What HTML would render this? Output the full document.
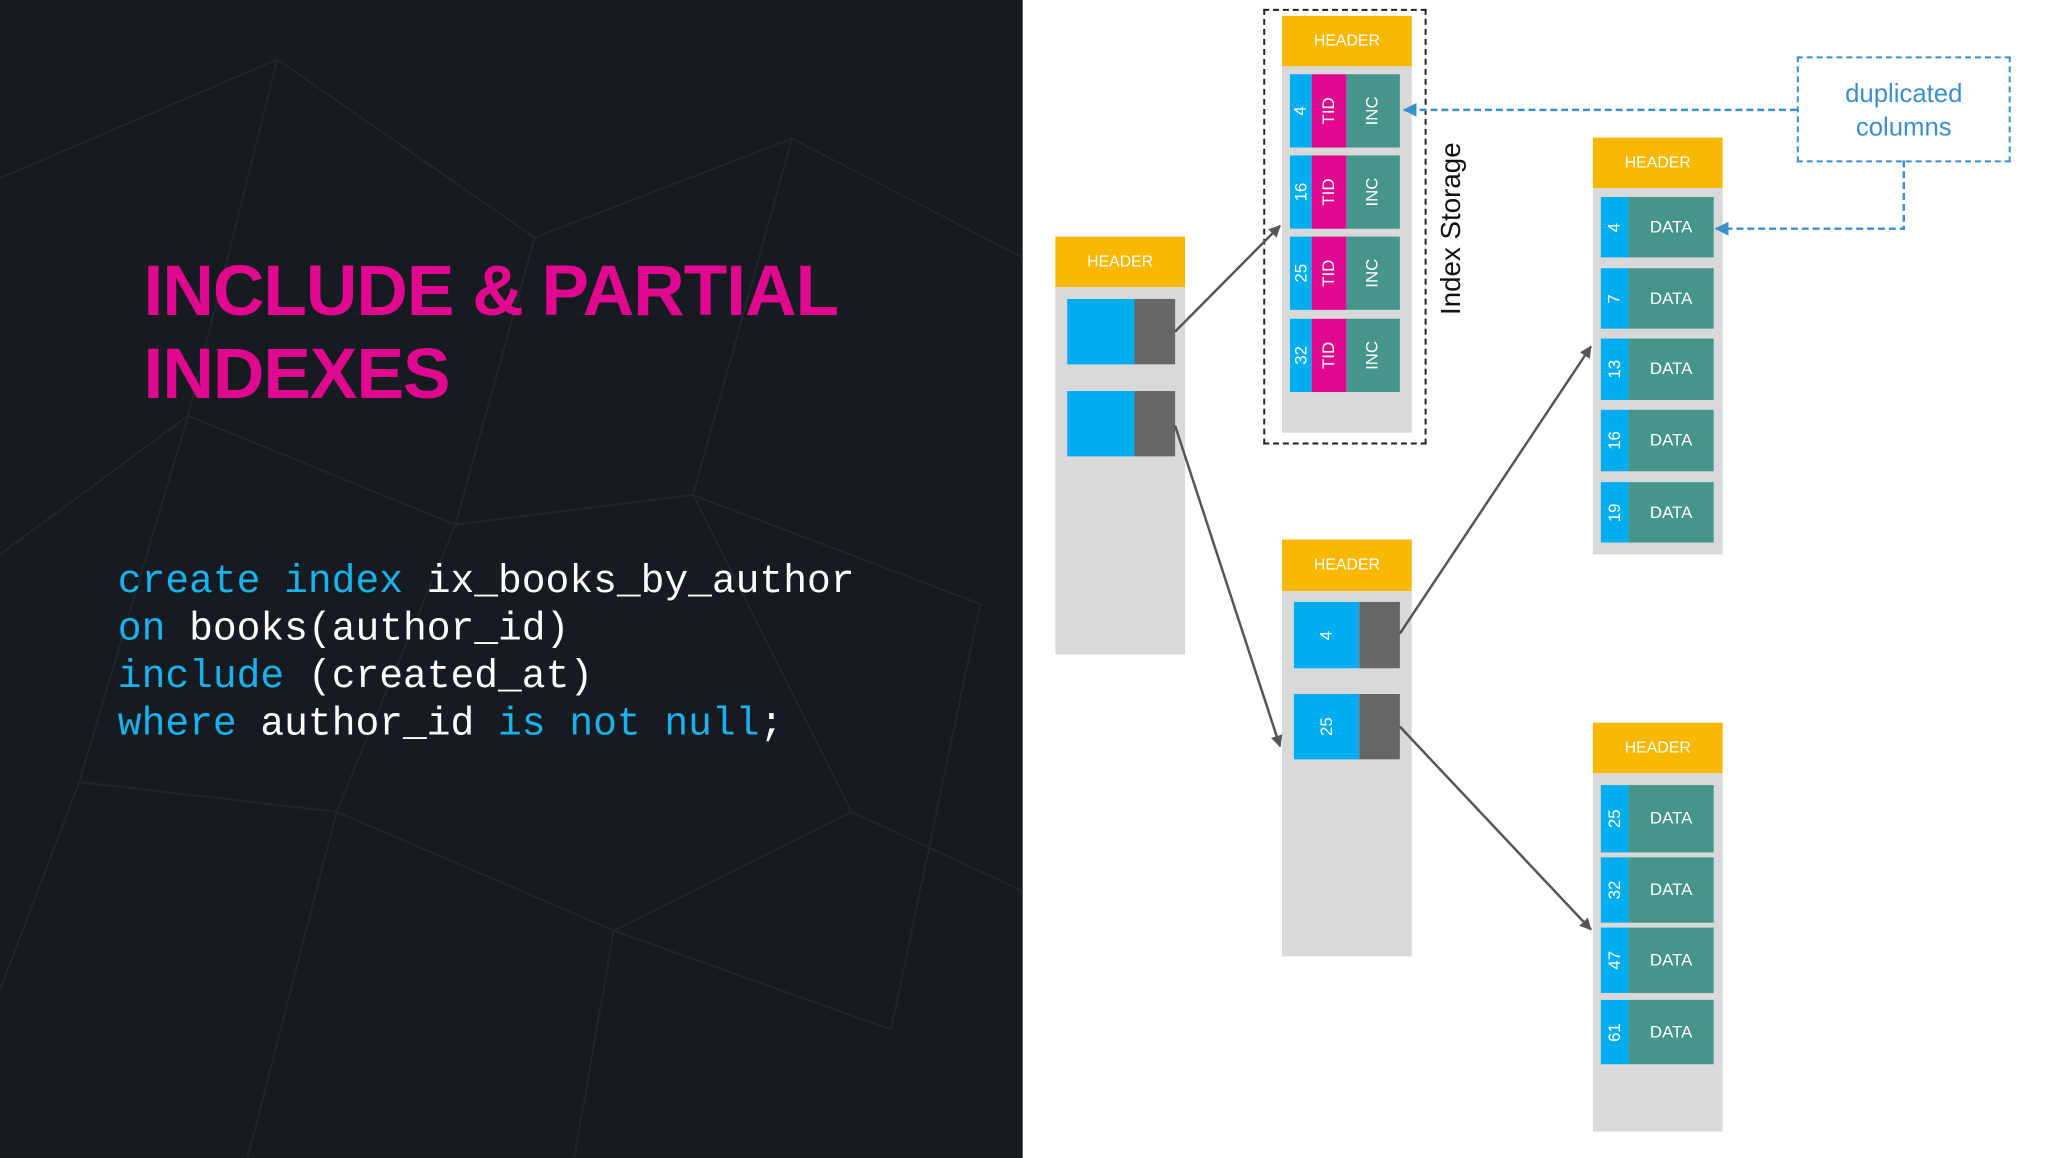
<!DOCTYPE html>
<html><head><meta charset="utf-8"><style>
body{margin:0;width:2048px;height:1152px;position:relative;overflow:hidden;background:#fff;font-family:"Liberation Sans",sans-serif}
#w{position:absolute;left:0;top:0;width:2070px;height:1170px;transform:scale(0.99);transform-origin:0 0}
.a{position:absolute}
.hdr{position:absolute;background:#f9b800;color:#fff;font-size:16px;display:flex;align-items:center;justify-content:center}
.body{position:absolute;background:#d9d9d9}
.r{position:absolute;display:flex;align-items:center;justify-content:center;color:#fff;font-size:17px}
.v span{transform:rotate(-90deg);white-space:nowrap}
.bl{background:#00adef}.pk{background:#e0088e}.tl{background:#45958a}.gy{background:#666}
.code{position:absolute;left:119px;font-family:"Liberation Mono",monospace;font-size:40px;color:#fff;white-space:pre}
.k{color:#1ab2ea}
</style></head><body><div id="w">
<div class="a" style="left:0;top:0;width:1033px;height:1170px;background:#161b22"></div>
<svg class="a" style="left:0;top:0" width="1033" height="1170">
<g stroke="#20262e" stroke-width="2" fill="none">
<path d="M0 180 L280 60 L540 240 L800 140 L1033 260"/>
<path d="M280 60 L190 420 L460 530 L700 500 L990 610"/>
<path d="M0 560 L190 420 L80 790 L340 820 L620 940 L900 1040"/>
<path d="M80 790 L0 1000 M340 820 L460 530 L540 240 M700 500 L800 140 M700 500 L860 820 L620 940 M860 820 L1033 900"/>
<path d="M620 940 L580 1170 M340 820 L250 1170 M900 1040 L990 610"/>
</g></svg>
<div class="a" style="left:145px;top:252px;font-size:72px;font-weight:bold;color:#e0088e;letter-spacing:-1px;line-height:84px">INCLUDE &amp; PARTIAL<br>INDEXES</div>
<div class="code" style="top:566px"><span class="k">create index</span> ix_books_by_author</div>
<div class="code" style="top:614px"><span class="k">on</span> books(author_id)</div>
<div class="code" style="top:662px"><span class="k">include</span> (created_at)</div>
<div class="code" style="top:710px"><span class="k">where</span> author_id <span class="k">is not null</span>;</div>

<div class="hdr" style="left:1066px;top:239px;width:131px;height:51px">HEADER</div>
<div class="body" style="left:1066px;top:290px;width:131px;height:371px"></div>
<div class="r bl" style="left:1078px;top:302px;width:68px;height:66px"></div><div class="r gy" style="left:1146px;top:302px;width:41px;height:66px"></div>
<div class="r bl" style="left:1078px;top:395px;width:68px;height:66px"></div><div class="r gy" style="left:1146px;top:395px;width:41px;height:66px"></div>

<div class="hdr" style="left:1295px;top:16px;width:131px;height:51px">HEADER</div>
<div class="body" style="left:1295px;top:67px;width:131px;height:370px"></div>
<div class="r bl v" style="left:1303px;top:75px;width:22px;height:74px"><span>4</span></div><div class="r pk v" style="left:1325px;top:75px;width:35px;height:74px"><span>TID</span></div><div class="r tl v" style="left:1360px;top:75px;width:54px;height:74px"><span>INC</span></div>
<div class="r bl v" style="left:1303px;top:157px;width:22px;height:74px"><span>16</span></div><div class="r pk v" style="left:1325px;top:157px;width:35px;height:74px"><span>TID</span></div><div class="r tl v" style="left:1360px;top:157px;width:54px;height:74px"><span>INC</span></div>
<div class="r bl v" style="left:1303px;top:239px;width:22px;height:74px"><span>25</span></div><div class="r pk v" style="left:1325px;top:239px;width:35px;height:74px"><span>TID</span></div><div class="r tl v" style="left:1360px;top:239px;width:54px;height:74px"><span>INC</span></div>
<div class="r bl v" style="left:1303px;top:322px;width:22px;height:74px"><span>32</span></div><div class="r pk v" style="left:1325px;top:322px;width:35px;height:74px"><span>TID</span></div><div class="r tl v" style="left:1360px;top:322px;width:54px;height:74px"><span>INC</span></div>
<div class="a" style="left:1276px;top:9px;width:161px;height:436px;border:2px dashed #222"></div>
<div class="a" style="left:1366px;top:216px;width:200px;height:30px;transform:rotate(-90deg);font-size:28px;color:#111;text-align:center;line-height:30px">Index Storage</div>

<div class="a" style="left:1815px;top:57px;width:212px;height:103px;border:2px dashed #3d8fcc;color:#3d8fcc;font-size:26px;text-align:center;display:flex;align-items:center;justify-content:center;line-height:34px">duplicated<br>columns</div>

<div class="hdr" style="left:1609px;top:139px;width:131px;height:51px">HEADER</div>
<div class="body" style="left:1609px;top:190px;width:131px;height:370px"></div>
<div class="r bl v" style="left:1617px;top:199px;width:28px;height:61px"><span>4</span></div><div class="r tl" style="left:1645px;top:199px;width:86px;height:61px">DATA</div>
<div class="r bl v" style="left:1617px;top:271px;width:28px;height:61px"><span>7</span></div><div class="r tl" style="left:1645px;top:271px;width:86px;height:61px">DATA</div>
<div class="r bl v" style="left:1617px;top:342px;width:28px;height:62px"><span>13</span></div><div class="r tl" style="left:1645px;top:342px;width:86px;height:62px">DATA</div>
<div class="r bl v" style="left:1617px;top:414px;width:28px;height:62px"><span>16</span></div><div class="r tl" style="left:1645px;top:414px;width:86px;height:62px">DATA</div>
<div class="r bl v" style="left:1617px;top:487px;width:28px;height:61px"><span>19</span></div><div class="r tl" style="left:1645px;top:487px;width:86px;height:61px">DATA</div>

<div class="hdr" style="left:1295px;top:545px;width:131px;height:52px">HEADER</div>
<div class="body" style="left:1295px;top:597px;width:131px;height:369px"></div>
<div class="r bl v" style="left:1307px;top:608px;width:66px;height:67px"><span>4</span></div><div class="r gy" style="left:1373px;top:608px;width:41px;height:67px"></div>
<div class="r bl v" style="left:1307px;top:701px;width:66px;height:66px"><span>25</span></div><div class="r gy" style="left:1373px;top:701px;width:41px;height:66px"></div>

<div class="hdr" style="left:1609px;top:730px;width:131px;height:51px">HEADER</div>
<div class="body" style="left:1609px;top:781px;width:131px;height:362px"></div>
<div class="r bl v" style="left:1617px;top:793px;width:28px;height:68px"><span>25</span></div><div class="r tl" style="left:1645px;top:793px;width:86px;height:68px">DATA</div>
<div class="r bl v" style="left:1617px;top:866px;width:28px;height:66px"><span>32</span></div><div class="r tl" style="left:1645px;top:866px;width:86px;height:66px">DATA</div>
<div class="r bl v" style="left:1617px;top:937px;width:28px;height:66px"><span>47</span></div><div class="r tl" style="left:1645px;top:937px;width:86px;height:66px">DATA</div>
<div class="r bl v" style="left:1617px;top:1010px;width:28px;height:65px"><span>61</span></div><div class="r tl" style="left:1645px;top:1010px;width:86px;height:65px">DATA</div>

<svg class="a" style="left:0;top:0" width="2070" height="1170">
<defs>
<marker id="g" markerWidth="12" markerHeight="12" refX="11" refY="6" orient="auto" markerUnits="userSpaceOnUse" viewBox="0 0 12 12"><path d="M0 0L12 6L0 12z" fill="#555"/></marker>
<marker id="b" markerWidth="14" markerHeight="14" refX="13" refY="7" orient="auto" markerUnits="userSpaceOnUse" viewBox="0 0 14 14"><path d="M0 0L14 7L0 14z" fill="#3d8fcc"/></marker>
</defs>
<g stroke="#555" stroke-width="2.5" fill="none" marker-end="url(#g)">
<line x1="1187" y1="335" x2="1293" y2="228"/>
<line x1="1187" y1="430" x2="1293" y2="754"/>
<line x1="1414" y1="640" x2="1607" y2="350"/>
<line x1="1414" y1="734" x2="1607" y2="939"/>
</g>
<g stroke="#3d8fcc" stroke-width="2.5" fill="none" stroke-dasharray="7 4" marker-end="url(#b)">
<polyline points="1815,111 1418,111"/>
<polyline points="1923,162 1923,231 1733,231"/>
</g>
</svg>
</div></body></html>
